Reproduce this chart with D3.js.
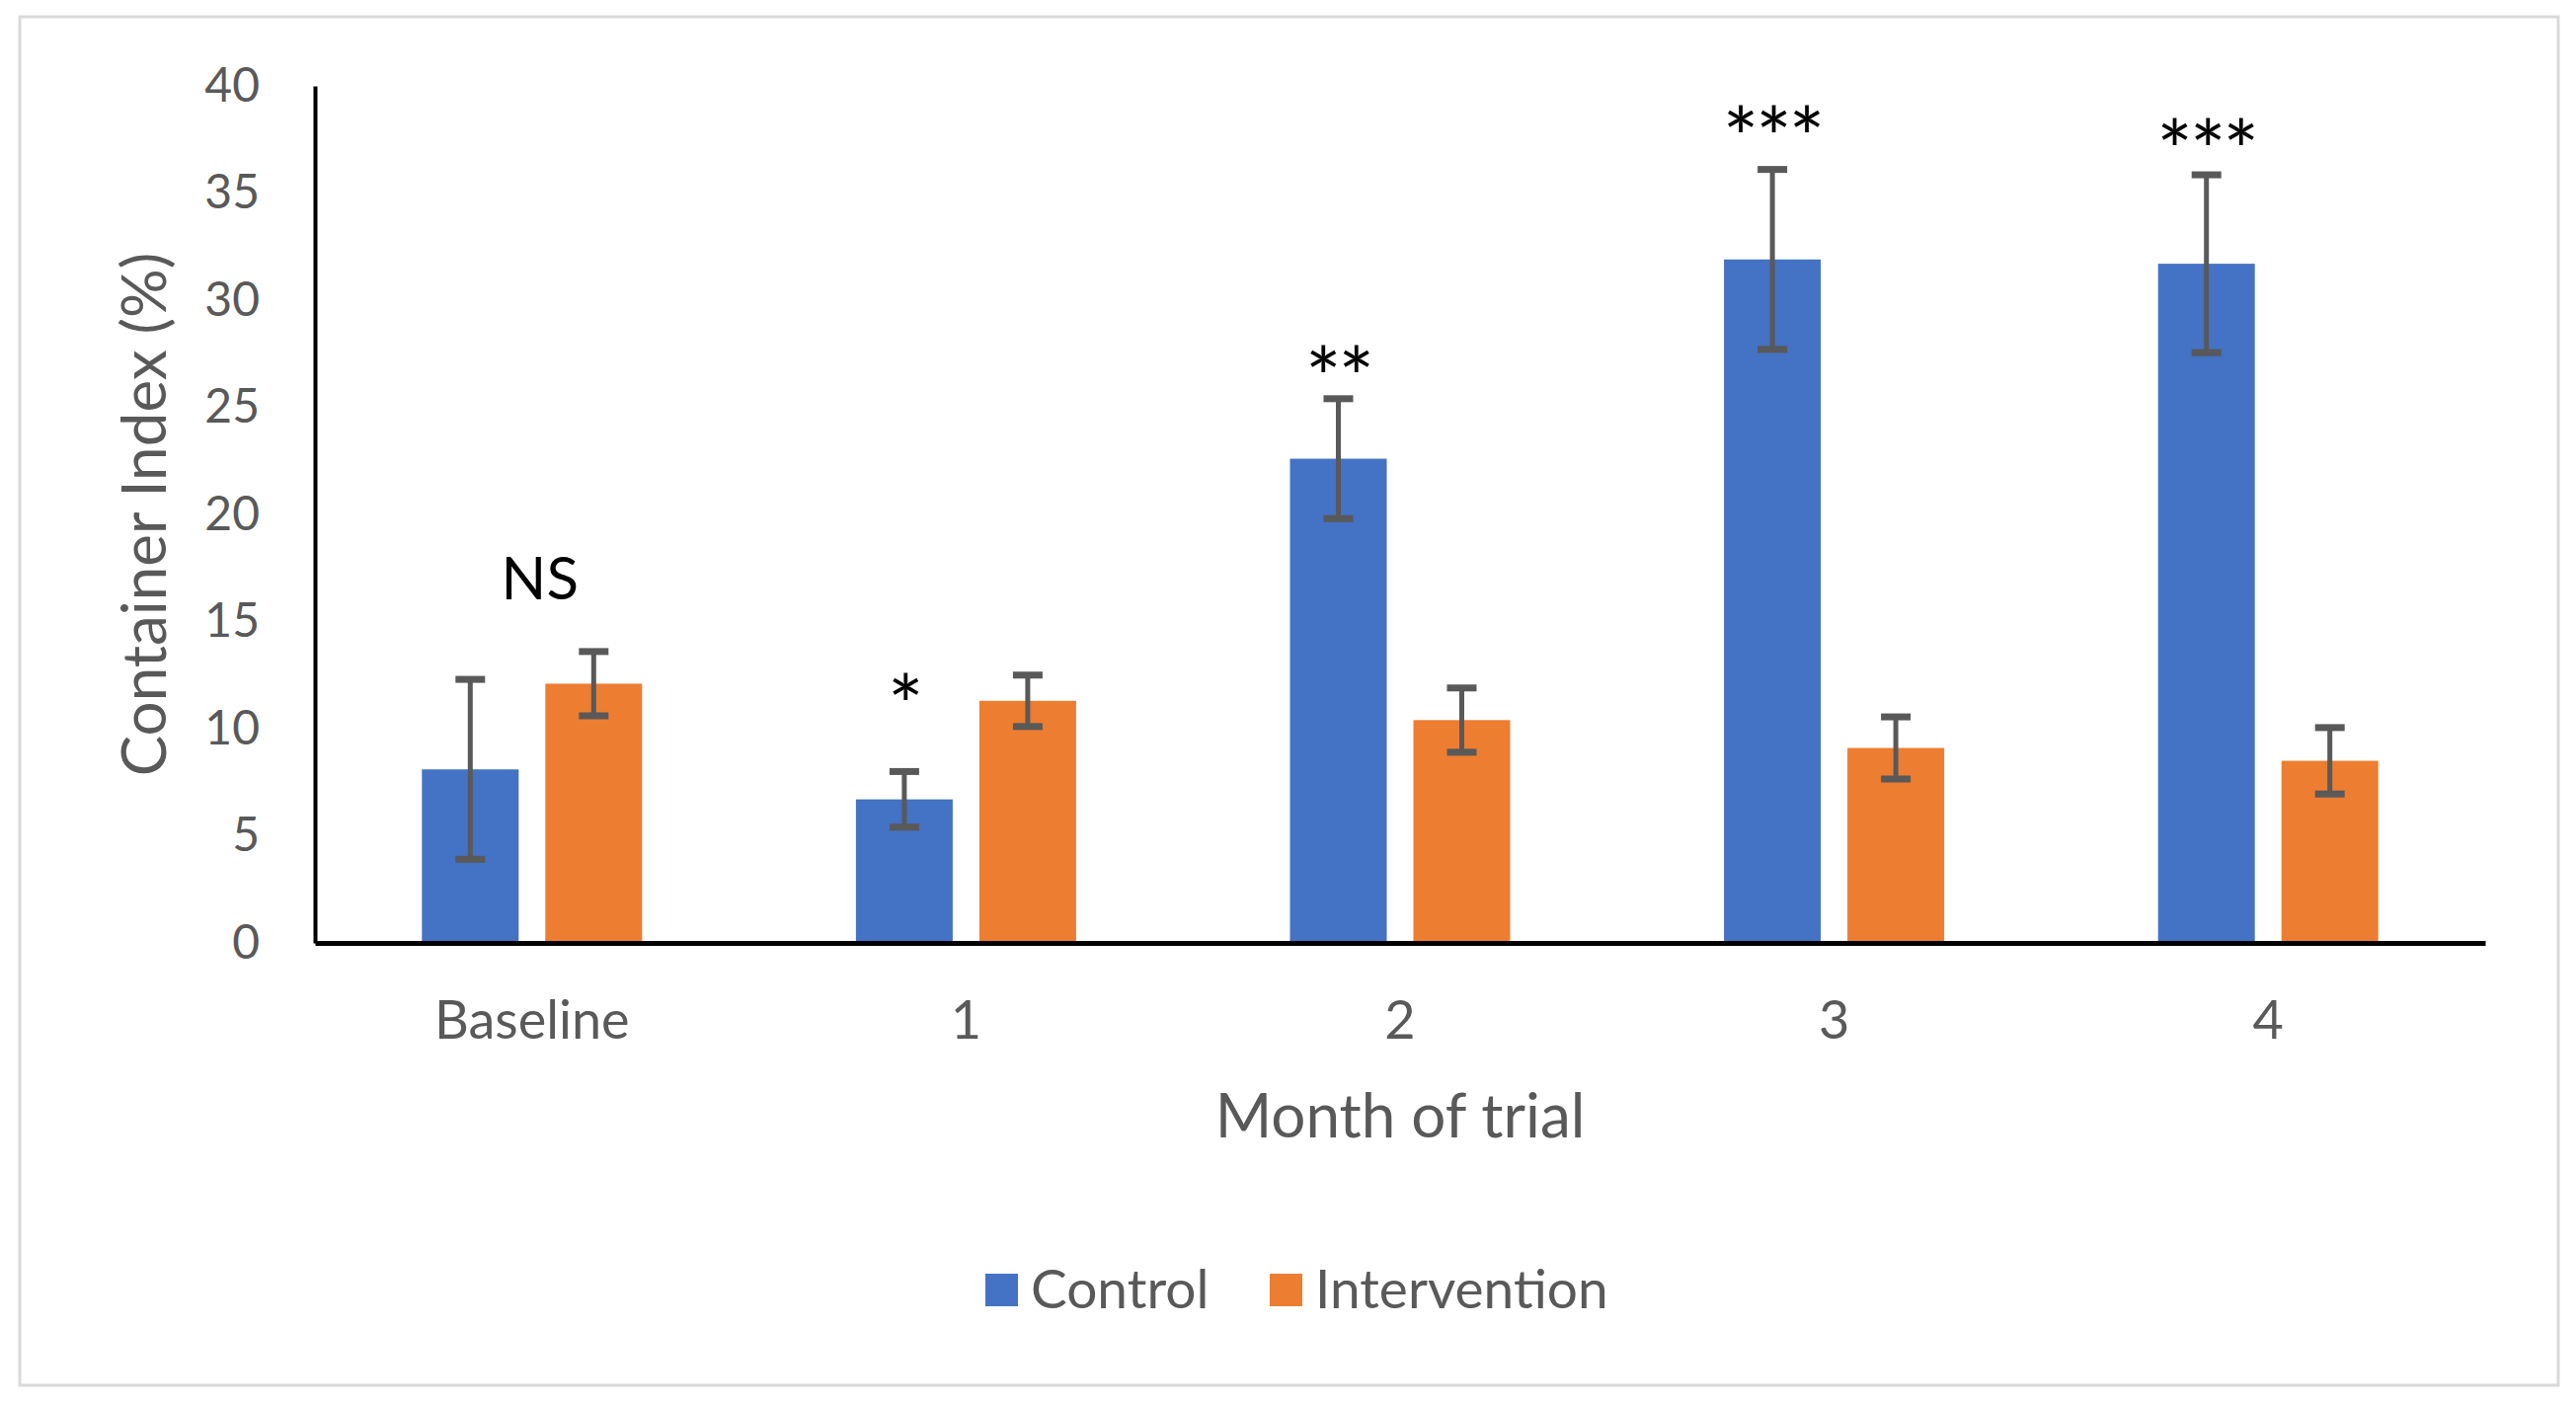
<html>
  <meta charset="utf-8">
  <head>
  <style>
    body { margin: 0; background: #fff; }
    svg text { font-family: Lato, "Open Sans", sans-serif; }
  </style>
  </head>
  <body>
    <div id="chart"></div>
    <script src="https://d3js.org/d3.v7.min.js"></script>
    <script>
    'use strict';

    // data
    var months = ['Baseline', '1', '2', '3', '4'];
    var series = ['Control', 'Intervention'];
    var control = [8.1, 6.7, 22.6, 31.9, 31.7];
    var controlErr = [4.2, 1.3, 2.8, 4.2, 4.15];
    var intervention = [12.1, 11.3, 10.4, 9.1, 8.5];
    var interventionErr = [1.5, 1.2, 1.5, 1.45, 1.55];
    var yTicks = [0, 5, 10, 15, 20, 25, 30, 35, 40];
    var sigLabels = ['NS', '*', '**', '***', '***'];
    var sigLevel = [17.0, 12.0, 27.3, 38.5, 37.9];

    var COLORS = ['#4472C4', '#ED7D31'];
    var TEXT = '#595959';

    var W = 2609, H = 1423;
    var m = {left: 319, right: 92, top: 87, bottom: 468};

    var svg = d3.select('#chart').append('svg')
      .attr('width', W).attr('height', H);

    svg.append('rect')
      .attr('x', 20).attr('y', 17)
      .attr('width', 2571).attr('height', 1386)
      .attr('fill', '#fff')
      .attr('stroke', '#d9d9d9').attr('stroke-width', 3);

    var x0 = d3.scaleBand().domain(months).range([m.left, W - m.right]);
    var y = d3.scaleLinear().domain([0, 40]).range([H - m.bottom, m.top]);

    var barW = 98, gap = 27;
    function barX(i, s) {
      var c = x0(months[i]) + x0.bandwidth() / 2;
      return s === 0 ? c - gap / 2 - barW : c + gap / 2;
    }

    var rows = months.map(function(mo, i) {
      return [
        {i: i, s: 0, v: control[i], e: controlErr[i]},
        {i: i, s: 1, v: intervention[i], e: interventionErr[i]}
      ];
    });
    var flat = [].concat.apply([], rows);

    svg.append('g').selectAll('rect').data(flat).enter().append('rect')
      .attr('x', function(d) { return barX(d.i, d.s); })
      .attr('y', function(d) { return y(d.v); })
      .attr('width', barW)
      .attr('height', function(d) { return y(0) - y(d.v); })
      .attr('fill', function(d) { return COLORS[d.s]; });

    // error bars
    var eg = svg.append('g').attr('stroke', '#595959').attr('stroke-width', 5);
    var capW = 30;
    flat.forEach(function(d) {
      var cx = barX(d.i, d.s) + barW / 2;
      eg.append('line').attr('x1', cx).attr('x2', cx)
        .attr('y1', y(d.v + d.e)).attr('y2', y(d.v - d.e));
      [d.v + d.e, d.v - d.e].forEach(function(v) {
        eg.append('line').attr('x1', cx - capW / 2).attr('x2', cx + capW / 2)
          .attr('y1', y(v)).attr('y2', y(v)).attr('stroke-width', 7);
      });
    });

    // axes
    var yAxis = svg.append('g')
      .attr('transform', 'translate(' + m.left + ',0)')
      .call(d3.axisLeft(y).tickValues(yTicks).tickSize(0).tickSizeOuter(0).tickPadding(56));
    yAxis.select('.domain').attr('stroke', '#000').attr('stroke-width', 4);
    yAxis.selectAll('text').attr('fill', TEXT).style('font-size', '48px');

    var xAxis = svg.append('g')
      .attr('transform', 'translate(0,' + y(0) + ')')
      .call(d3.axisBottom(x0).tickSize(0).tickSizeOuter(0));
    xAxis.select('.domain').attr('stroke', '#000').attr('stroke-width', 5);
    xAxis.selectAll('text').attr('fill', TEXT).style('font-size', '54px')
      .attr('y', 78).attr('dy', '0.35em');

    // titles
    svg.append('text')
      .attr('transform', 'translate(146,' + (y(20)) + ') rotate(-90)')
      .attr('text-anchor', 'middle').attr('dy', '0.35em')
      .attr('fill', TEXT).style('font-size', '62px')
      .text('Container Index (%)');

    svg.append('text')
      .attr('x', x0('2') + x0.bandwidth() / 2).attr('y', 1130)
      .attr('text-anchor', 'middle').attr('dy', '0.35em')
      .attr('fill', TEXT).style('font-size', '62px')
      .text('Month of trial');

    // significance marks
    svg.append('g').selectAll('text').data(sigLabels).enter().append('text')
      .attr('x', function(d, i) {
        return i === 0 ? x0(months[i]) + x0.bandwidth() / 2 + 8 : barX(i, 0) + barW / 2;
      })
      .attr('y', function(d, i) { return y(sigLevel[i]); })
      .attr('text-anchor', 'middle')
      .attr('dy', function(d) { return d === 'NS' ? '0.35em' : '0.6em'; })
      .attr('fill', '#000')
      .style('font-size', function(d) { return d === 'NS' ? '60px' : '86px'; })
      .style('letter-spacing', function(d) { return d === 'NS' ? '0' : '-3px'; })
      .text(function(d) { return d; });

    // legend
    var lg = svg.append('g').attr('transform', 'translate(0,1306)');
    var lx = [998, 1286];
    series.forEach(function(s, i) {
      lg.append('rect').attr('x', lx[i]).attr('y', -16)
        .attr('width', 33).attr('height', 33).attr('fill', COLORS[i]);
      lg.append('text').attr('x', lx[i] + 46).attr('y', 0).attr('dy', '0.35em')
        .attr('fill', TEXT).style('font-size', '55px').text(s);
    });
    </script>
  </body>
</html>
